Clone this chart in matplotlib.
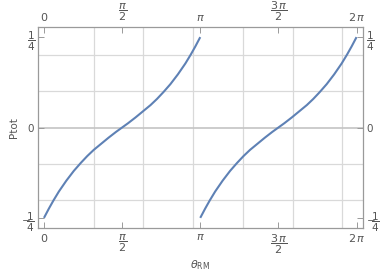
import numpy as np
import matplotlib.pyplot as plt

# values (first branch, 0..pi)
theta_branch = [0.0, 0.10, 0.19, 0.30, 0.45, 0.60, 0.74, 0.87, 1.00, 1.15, 1.30, 1.45, 1.571,
                1.692, 1.842, 1.992, 2.142, 2.272, 2.402, 2.542, 2.692, 2.842, 2.952, 3.042, 3.1416]
ptot_branch = [-0.25, -0.224, -0.202, -0.177, -0.147, -0.120, -0.098, -0.079, -0.062, -0.045,
               -0.028, -0.012, 0.0, 0.012, 0.028, 0.045, 0.062, 0.079, 0.098, 0.120, 0.147,
               0.177, 0.202, 0.224, 0.25]

xtick_vals = [0, np.pi / 2, np.pi, 3 * np.pi / 2, 2 * np.pi]
xtick_labels = [r'$0$', r'$\dfrac{\pi}{2}$', r'$\pi$', r'$\dfrac{3\,\pi}{2}$', r'$2\,\pi$']
ytick_vals = [-0.25, 0, 0.25]
ytick_labels = [r'$-\!\!\dfrac{1}{4}$', r'$0$', r'$\dfrac{1}{4}$']

plt.rcParams['mathtext.fontset'] = 'dejavusans'
plt.rcParams['font.family'] = 'DejaVu Sans'

frame_col = '#9a9a9a'
text_col = '#555555'
line_col = '#5e81b5'

fig = plt.figure(figsize=(3.82, 2.77), dpi=100)
ax = fig.add_axes([38 / 382, 1 - 228 / 277, 325 / 382, 201 / 277])

th = np.array(theta_branch)
p = np.array(ptot_branch)
ax.plot(th, p, color=line_col, lw=1.5, solid_capstyle='butt')
ax.plot(th + np.pi, p, color=line_col, lw=1.5, solid_capstyle='butt')

ax.set_xlim(-0.12, 2 * np.pi + 0.13)
ax.set_ylim(-0.278, 0.278)

# grid lines at integers and tenths
for gx in range(1, 7):
    ax.axvline(gx, color='#d9d9d9', lw=0.9, zorder=0)
for gy in [-0.2, -0.1, 0.1, 0.2]:
    ax.axhline(gy, color='#d9d9d9', lw=0.9, zorder=0)
ax.axhline(0, color='#c4c4c4', lw=1.2, zorder=0)

for s in ax.spines.values():
    s.set_color(frame_col)
    s.set_linewidth(0.9)

ax.set_xticks(xtick_vals)
ax.set_xticklabels(xtick_labels)
ax.set_yticks(ytick_vals)
ax.set_yticklabels(ytick_labels)
ax.tick_params(direction='in', length=4, width=0.7, color=frame_col,
               labelcolor=text_col, labelsize=8, pad=3,
               top=True, right=True, labeltop=True, labelright=True)
ax.tick_params(axis='y', labelsize=7.5, pad=2)

ax.set_xlabel(r'$\theta_{\mathrm{RM}}$', color=text_col, fontsize=8, labelpad=2)
ax.set_ylabel('Ptot', color=text_col, fontsize=7.5, labelpad=2)

fig.savefig('out.png', dpi=100)
